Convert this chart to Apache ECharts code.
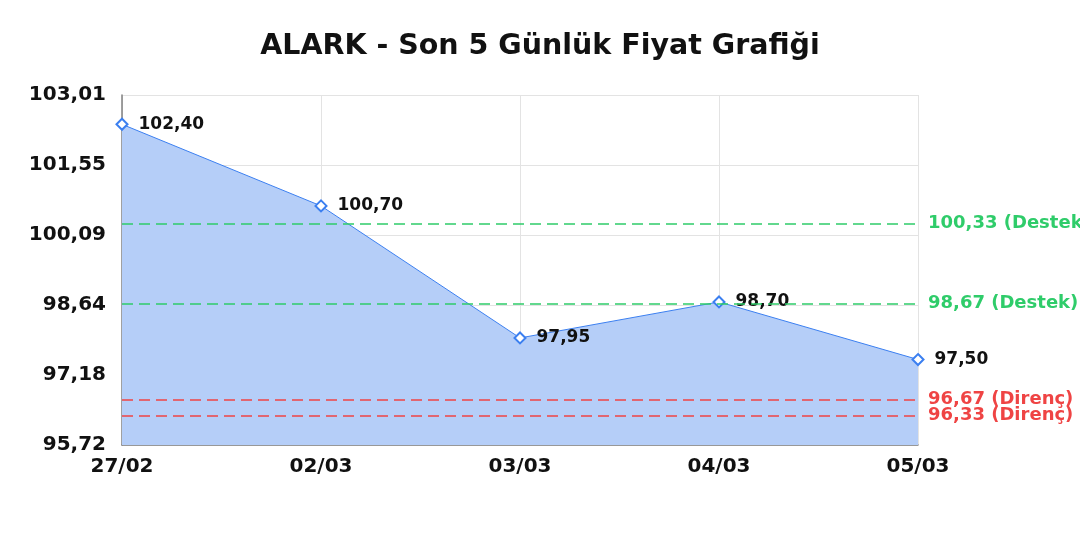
<!DOCTYPE html>
<html><head><meta charset="utf-8">
<title>ALARK - Son 5 Günlük Fiyat Grafiği</title>
<script src="https://cdn.jsdelivr.net/npm/echarts@6/dist/echarts.min.js"></script>
<style>
  html, body { margin:0; padding:0; background:#fff; }
  #chart { width:1080px; height:540px; }
</style>
</head>
<body>
<div id="chart"></div>
<script>
var days = ["27/02", "02/03", "03/03", "04/03", "05/03"];
var prices = [102.40, 100.70, 97.95, 98.70, 97.50];
var yTicks = [95.72, 97.178, 98.636, 100.094, 101.552, 103.01];
var supports = [100.33, 98.67];
var resists = [96.67, 96.33];

function fmt(v){ return v.toFixed(2).replace('.', ','); }

// invisible helper series carrying one group of reference lines
function levelSeries(values, name, color){
  return {
    type: 'line', data: prices, silent: true,
    symbol: 'none', lineStyle: { opacity: 0 }, label: { show: false },
    z: 3,
    markLine: {
      symbol: 'none', silent: true,
      lineStyle: { color: color, type: [11, 6], width: 1.5 },
      label: { position: 'end', color: color, fontSize: 18, fontWeight: 'bold', distance: 10,
        formatter: function(p){ return fmt(p.value) + ' (' + name + ')'; } },
      data: values.map(function(v){ return { yAxis: v }; })
    }
  };
}

var chart = echarts.init(document.getElementById('chart'));
chart.setOption({
  animation: false,
  textStyle: { fontFamily: 'DejaVu Sans' },
  title: {
    text: 'ALARK - Son 5 Günlük Fiyat Grafiği',
    left: 'center', top: 27,
    textStyle: { fontSize: 28.5, fontWeight: 'bold', color: '#111', fontFamily: 'DejaVu Sans' }
  },
  grid: { left: 122, right: 162, top: 95, bottom: 95 },
  xAxis: {
    type: 'category', data: days, boundaryGap: false,
    axisLine: { lineStyle: { color: '#808080', width: 1.5 } },
    axisTick: { show: false },
    axisLabel: { color: '#111', fontSize: 20, fontWeight: 'bold', margin: 12 },
    splitLine: { show: true, lineStyle: { color: '#e3e3e3' } }
  },
  yAxis: {
    type: 'value', min: 95.72, max: 103.01,
    axisLine: { show: true, lineStyle: { color: '#808080', width: 1.5 } },
    axisTick: { show: false, customValues: yTicks },
    axisLabel: { color: '#111', fontSize: 20, fontWeight: 'bold', margin: 16,
      customValues: yTicks, formatter: function(v){ return fmt(v); } },
    splitLine: { show: true, lineStyle: { color: '#e3e3e3' } }
  },
  series: [
    {
      type: 'line', data: prices, z: 4,
      symbol: 'diamond', symbolSize: 11,
      itemStyle: { color: '#fff', borderColor: '#3b7ff0', borderWidth: 2 },
      lineStyle: { color: '#3b7ff0', width: 1 },
      areaStyle: { color: '#b5cef8', opacity: 1 },
      label: { show: true, position: 'right', distance: 10, color: '#111',
        fontSize: 17, fontWeight: 'bold', formatter: function(p){ return fmt(p.value); } }
    },
    levelSeries(supports, 'Destek', '#2fcc6a'),
    levelSeries(resists, 'Direnç', '#ef4444')
  ]
});
</script>
</body></html>
